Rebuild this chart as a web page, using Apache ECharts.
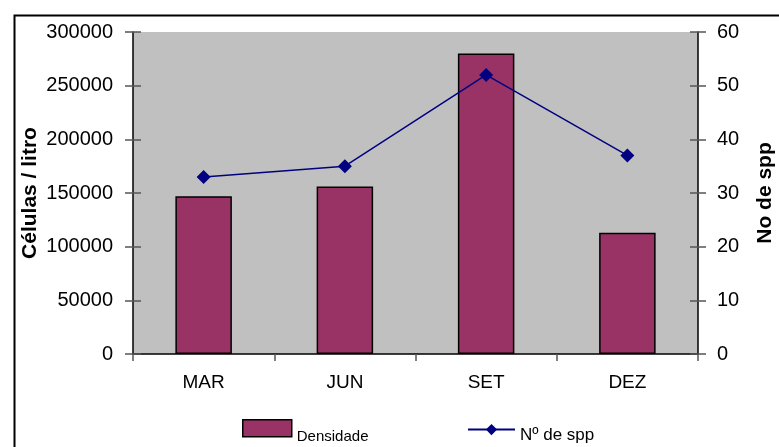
<!DOCTYPE html>
<html>
<head>
<meta charset="utf-8">
<script src="https://cdn.jsdelivr.net/npm/echarts@6/dist/echarts.min.js"></script>
<style>
  html, body { margin: 0; padding: 0; background: #fff; }
  #chart { width: 779px; height: 447px; }
</style>
</head>
<body>
<div id="chart"></div>
<script>
// Monthly cell density (bars, left axis) and species count (line, right axis)
const months = ['MAR', 'JUN', 'SET', 'DEZ'];
const densidade = [147000, 156000, 280000, 113000];
const nSpp = [33, 35, 52, 37];

const leftTicks = { min: 0, max: 300000, interval: 50000 };
const rightTicks = { min: 0, max: 60, interval: 10 };

const FONT = '"Liberation Sans", Arial, sans-serif';

const chart = echarts.init(document.getElementById('chart'), null, { renderer: 'canvas' });

// inward half of the crossing ticks on each value axis
function innerTickAxis(pos, range) {
  return {
    type: 'value', position: pos, min: range.min, max: range.max, interval: range.interval,
    axisLine: { show: false },
    axisTick: { show: true, inside: true, length: 8, lineStyle: { color: '#555', width: 1.5 } },
    axisLabel: { show: false }, splitLine: { show: false }
  };
}

const plainNumber = v => String(v);

chart.setOption({
  animation: false,
  backgroundColor: '#ffffff',
  graphic: [{
    type: 'rect', left: 12, top: 13, z: -1,
    shape: { width: 800, height: 460 },
    style: { fill: 'none', stroke: '#000', lineWidth: 2 }
  }],
  grid: {
    left: 133, right: 81, top: 32, bottom: 93,
    containLabel: false, outerBoundsMode: 'none',
    show: true, backgroundColor: '#c0c0c0', borderWidth: 0
  },
  legend: [{
    data: [{ name: 'Densidade', icon: 'rect' }], left: 237, top: 414, itemWidth: 49, itemHeight: 17, itemGap: 10,
    formatter: '{lbl|{name}}',
    textStyle: {
      fontFamily: FONT, fontSize: 15, color: '#000',
      rich: { lbl: { fontFamily: FONT, fontSize: 15, color: '#000', padding: [18, 0, 0, 0] } }
    },
    itemStyle: { borderColor: '#000', borderWidth: 1.5 }
  }, {
    data: ['Nº de spp'], left: 462, top: 419, itemWidth: 47, itemHeight: 14, itemGap: 11,
    formatter: '{lbl|{name}}',
    textStyle: {
      fontFamily: FONT, fontSize: 17, color: '#000',
      rich: { lbl: { fontFamily: FONT, fontSize: 17, color: '#000', padding: [11, 0, 0, 0] } }
    }
  }],
  xAxis: {
    type: 'category', data: months,
    axisLine: { lineStyle: { color: '#000', width: 1.5 } },
    axisTick: { show: true, length: 7, alignWithLabel: false, lineStyle: { color: '#555', width: 1.5 } },
    axisLabel: { fontFamily: FONT, fontSize: 19, color: '#000', margin: 19 },
    splitLine: { show: false }
  },
  yAxis: [{
    type: 'value', position: 'left', min: leftTicks.min, max: leftTicks.max, interval: leftTicks.interval,
    name: 'Células / litro', nameLocation: 'middle', nameGap: 92, nameRotate: 90, nameMoveOverlap: false,
    nameTextStyle: { fontFamily: FONT, fontSize: 21, fontWeight: 'bold', color: '#000' },
    axisLine: { show: true, lineStyle: { color: '#000', width: 1.5 } },
    axisTick: { show: true, length: 8, lineStyle: { color: '#555', width: 1.5 } },
    axisLabel: { fontFamily: FONT, fontSize: 20, color: '#000', margin: 20, formatter: plainNumber },
    splitLine: { show: false }
  }, {
    type: 'value', position: 'right', min: rightTicks.min, max: rightTicks.max, interval: rightTicks.interval,
    name: 'No de spp', nameLocation: 'middle', nameGap: 57, nameRotate: 90, nameMoveOverlap: false,
    nameTextStyle: { fontFamily: FONT, fontSize: 21, fontWeight: 'bold', color: '#000' },
    axisLine: { show: true, lineStyle: { color: '#000', width: 1.5 } },
    axisTick: { show: true, length: 8, lineStyle: { color: '#555', width: 1.5 } },
    axisLabel: { fontFamily: FONT, fontSize: 20, color: '#000', margin: 19, formatter: plainNumber },
    splitLine: { show: false }
  },
  innerTickAxis('left', leftTicks),
  innerTickAxis('right', rightTicks)],
  series: [{
    name: 'Densidade', type: 'bar', yAxisIndex: 0, data: densidade,
    barWidth: '40%',
    itemStyle: { color: '#993366', borderColor: '#000', borderWidth: 1.5 }
  }, {
    name: 'Nº de spp', type: 'line', yAxisIndex: 1, data: nSpp,
    symbol: 'diamond', symbolSize: 14,
    lineStyle: { color: '#000080', width: 1.5 },
    itemStyle: { color: '#000080' }
  }]
});
</script>
</body>
</html>
